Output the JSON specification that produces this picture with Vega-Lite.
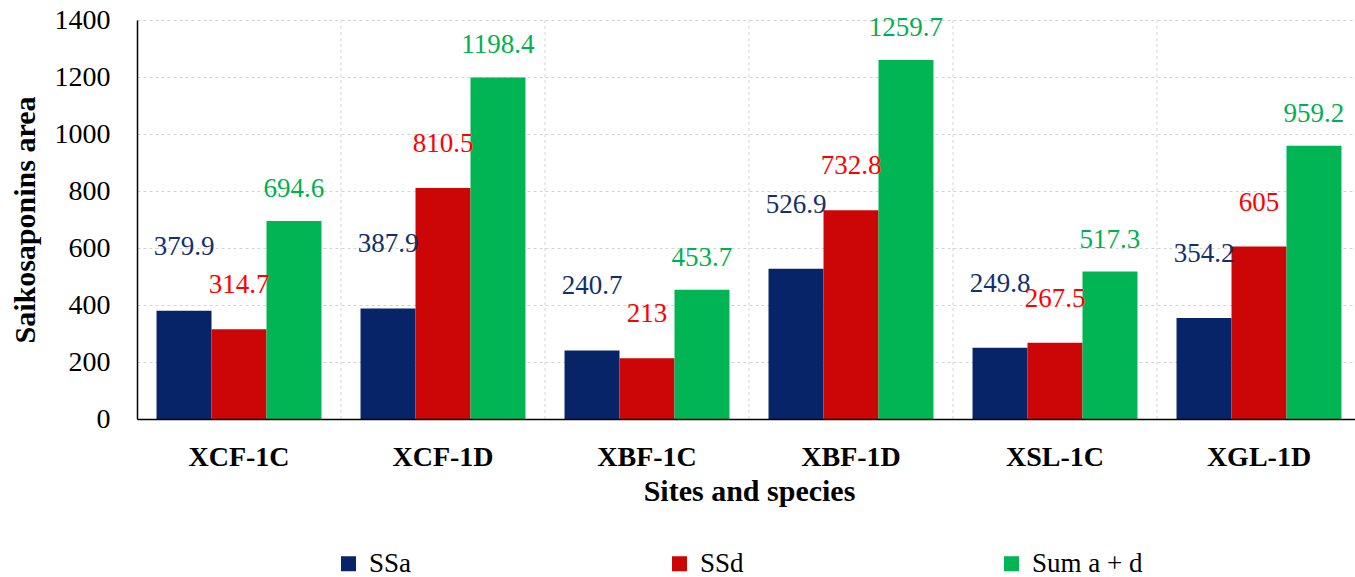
{
  "$schema": "https://vega.github.io/schema/vega-lite/v6.json",
  "width": 1224,
  "height": 399,
  "autosize": {"type": "none"},
  "padding": {"left": 137, "top": 20, "right": 0, "bottom": 158},
  "background": "white",
  "config": {
    "view": {"stroke": null},
    "font": "Liberation Serif",
    "legend": {"labelFont": "Liberation Serif"},
    "axis": {"labelFont": "Liberation Serif", "titleFont": "Liberation Serif"}
  },
  "data": {
    "values": [
      {"site": "XCF-1C", "series": "SSa", "value": 379.9},
      {"site": "XCF-1C", "series": "SSd", "value": 314.7},
      {"site": "XCF-1C", "series": "Sum a + d", "value": 694.6},
      {"site": "XCF-1D", "series": "SSa", "value": 387.9},
      {"site": "XCF-1D", "series": "SSd", "value": 810.5},
      {"site": "XCF-1D", "series": "Sum a + d", "value": 1198.4},
      {"site": "XBF-1C", "series": "SSa", "value": 240.7},
      {"site": "XBF-1C", "series": "SSd", "value": 213},
      {"site": "XBF-1C", "series": "Sum a + d", "value": 453.7},
      {"site": "XBF-1D", "series": "SSa", "value": 526.9},
      {"site": "XBF-1D", "series": "SSd", "value": 732.8},
      {"site": "XBF-1D", "series": "Sum a + d", "value": 1259.7},
      {"site": "XSL-1C", "series": "SSa", "value": 249.8},
      {"site": "XSL-1C", "series": "SSd", "value": 267.5},
      {"site": "XSL-1C", "series": "Sum a + d", "value": 517.3},
      {"site": "XGL-1D", "series": "SSa", "value": 354.2},
      {"site": "XGL-1D", "series": "SSd", "value": 605},
      {"site": "XGL-1D", "series": "Sum a + d", "value": 959.2}
    ]
  },
  "layer": [
    {
      "transform": [{"filter": "datum.series === 'SSa' && datum.site !== 'XCF-1C'"}],
      "mark": {"type": "rule", "color": "#d4d4d4", "strokeDash": [3, 3], "strokeWidth": 1},
      "encoding": {
        "x": {"field": "site", "type": "nominal", "bandPosition": 0, "sort": ["XCF-1C", "XCF-1D", "XBF-1C", "XBF-1D", "XSL-1C", "XGL-1D"], "axis": null}
      }
    },
    {
      "mark": {"type": "bar"},
      "encoding": {
        "x": {
          "field": "site", "type": "nominal",
          "sort": ["XCF-1C", "XCF-1D", "XBF-1C", "XBF-1D", "XSL-1C", "XGL-1D"],
          "scale": {"paddingInner": 0, "paddingOuter": 0},
          "axis": {
            "orient": "bottom",
            "title": "Sites and species",
            "titleFont": "Liberation Serif", "titleFontSize": 30, "titleFontWeight": "bold", "titleColor": "black",
            "titleY": 81, "titleBaseline": "alphabetic",
            "labelFont": "Liberation Serif", "labelFontSize": 28, "labelFontWeight": "bold", "labelColor": "black",
            "labelAngle": 0, "labelAlign": "center", "labelPadding": 24, "ticks": false,
            "domainColor": "black", "domainWidth": 1.5, "grid": false, "zindex": 1
          }
        },
        "xOffset": {"field": "series", "type": "nominal", "sort": ["SSa", "SSd", "Sum a + d"], "scale": {"paddingInner": 0, "paddingOuter": 0.355}},
        "y": {
          "field": "value", "type": "quantitative",
          "scale": {"domain": [0, 1400], "nice": false},
          "axis": {
            "values": [0, 200, 400, 600, 800, 1000, 1200, 1400],
            "format": "d",
            "title": "Saikosaponins area",
            "titleFont": "Liberation Serif", "titleFontSize": 30, "titleFontWeight": "bold", "titleColor": "black",
            "titleX": -112, "titleY": 199.5, "titleAngle": -90, "titleBaseline": "middle", "titleAlign": "center",
            "labelFont": "Liberation Serif", "labelFontSize": 28, "labelColor": "black", "labelPadding": 27,
            "ticks": false, "domainColor": "black", "domainWidth": 1.5,
            "grid": true, "gridColor": "#d4d4d4", "gridDash": [3, 3], "gridWidth": 1
          }
        },
        "color": {
          "field": "series", "type": "nominal",
          "scale": {"domain": ["SSa", "SSd", "Sum a + d"], "range": ["#082468", "#CC0606", "#02B554"]},
          "legend": {
            "orient": "none", "legendX": 198, "legendY": 530, "direction": "horizontal", "title": null,
            "padding": 0, "symbolType": "square", "symbolSize": 225, "symbolStrokeWidth": 0,
            "labelFont": "Liberation Serif", "labelFontSize": 27, "labelColor": "black", "labelOffset": 7,
            "columnPadding": 254
          }
        }
      }
    },
    {
      "transform": [{"filter": "datum.series === 'SSa'"}],
      "mark": {"type": "text", "baseline": "bottom", "dy": -50, "fontSize": 27, "font": "Liberation Serif", "color": "#13306E"},
      "encoding": {
        "x": {"field": "site", "type": "nominal", "sort": ["XCF-1C", "XCF-1D", "XBF-1C", "XBF-1D", "XSL-1C", "XGL-1D"], "axis": null},
        "xOffset": {"datum": "SSa", "type": "nominal"},
        "y": {"field": "value", "type": "quantitative"},
        "text": {"field": "value", "type": "quantitative"}
      }
    },
    {
      "transform": [{"filter": "datum.series === 'SSd'"}],
      "mark": {"type": "text", "baseline": "bottom", "dy": -30, "fontSize": 27, "font": "Liberation Serif", "color": "#FF0000"},
      "encoding": {
        "x": {"field": "site", "type": "nominal", "sort": ["XCF-1C", "XCF-1D", "XBF-1C", "XBF-1D", "XSL-1C", "XGL-1D"], "axis": null},
        "xOffset": {"datum": "SSd", "type": "nominal"},
        "y": {"field": "value", "type": "quantitative"},
        "text": {"field": "value", "type": "quantitative"}
      }
    },
    {
      "transform": [{"filter": "datum.series === 'Sum a + d'"}],
      "mark": {"type": "text", "baseline": "bottom", "dy": -18, "fontSize": 27, "font": "Liberation Serif", "color": "#00B050"},
      "encoding": {
        "x": {"field": "site", "type": "nominal", "sort": ["XCF-1C", "XCF-1D", "XBF-1C", "XBF-1D", "XSL-1C", "XGL-1D"], "axis": null},
        "xOffset": {"datum": "Sum a + d", "type": "nominal"},
        "y": {"field": "value", "type": "quantitative"},
        "text": {"field": "value", "type": "quantitative"}
      }
    }
  ],
  "resolve": {"axis": {"x": "independent"}}
}
